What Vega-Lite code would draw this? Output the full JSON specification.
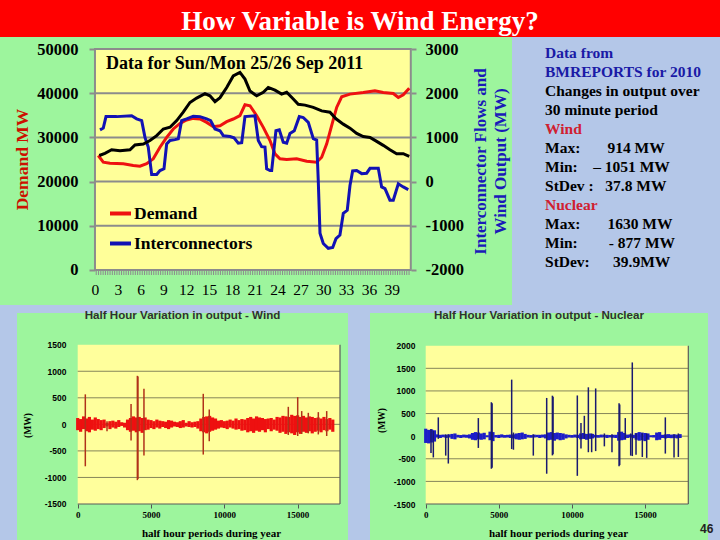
{
"$schema": "https://vega.github.io/schema/vega-lite/v6.json",
"background": "#b4c7e8",
"padding": 0,
"autosize": {"type": "pad"},
"config": {"view": {"stroke": null}, "axis": {"grid": false, "labelFlush": false, "labelOverlap": false}},
"spacing": 0,
"resolve": {"scale": {"color": "independent"}, "legend": {"color": "independent"}},
"vconcat": [
{
 "width": 720, "height": 37,
 "view": {"fill": "#ff0000"},
 "data": {"values": [{"label": "How Variable is Wind Energy?"}]},
 "mark": {"type": "text", "color": "white", "font": "Liberation Serif", "fontWeight": "bold", "fontSize": 27, "align": "center", "baseline": "alphabetic"},
 "encoding": {
  "text": {"field": "label"},
  "x": {"datum": 0.5, "type": "quantitative", "scale": {"domain": [0, 1]}, "axis": null},
  "y": {"datum": 0.2, "type": "quantitative", "scale": {"domain": [0, 1]}, "axis": null}
 }
},
{
 "spacing": 5,
 "resolve": {"scale": {"color": "independent"}, "legend": {"color": "independent"}},
 "vconcat": [
 {
  "spacing": 0,
  "bounds": "flush",
  "resolve": {"scale": {"color": "independent"}, "legend": {"color": "independent"}},
  "hconcat": [
  {
   "width": 512, "height": 268,
   "view": {"fill": "#9df59d"},
   "resolve": {"scale": {"y": "independent"}},
   "layer": [
   {
    "layer": [
    {
     "data": {"values": [{}]},
     "mark": {"type": "rect", "fill": "#ffff99", "stroke": "#8c8c8c", "strokeWidth": 2},
     "encoding": {
      "x": {"datum": 0, "type": "quantitative", "scale": {"domain": [-12.48, 54.8], "nice": false, "zero": false},
        "axis": {"orient": "bottom", "offset": -35, "values": [0,3,6,9,12,15,18,21,24,27,30,33,36,39], "labelOverlap": false, "domain": false, "ticks": false, "tickSize": 0, "labelPadding": 12, "labelFont": "Liberation Serif", "labelFontSize": 15.5, "labelFontWeight": "normal", "labelColor": "black", "title": null}},
      "x2": {"datum": 41.5},
      "y": {"datum": 0, "type": "quantitative", "scale": {"domain": [-7919, 52715], "nice": false, "zero": false},
        "axis": {"orient": "left", "offset": -95, "values": [0,10000,20000,30000,40000,50000], "labelOverlap": false, "domain": false, "ticks": true, "tickColor": "#8c8c8c", "tickSize": 6, "tickWidth": 2, "labelPadding": 11, "labelFont": "Liberation Serif", "labelFontWeight": "bold", "labelFontSize": 16.5, "labelColor": "black", "labelExpr": "'' + datum.value", "title": "Demand MW", "titleColor": "#cc1100", "titleFont": "Liberation Serif", "titleFontWeight": "bold", "titleFontSize": 17.5, "titlePadding": 5, "titleY": 122}},
      "y2": {"datum": 50000}
     }
    },
    {
     "data": {"values": [{"v": 10000}, {"v": 20000}, {"v": 30000}, {"v": 40000}]},
     "mark": {"type": "rule", "color": "#8c8c8c", "strokeWidth": 2},
     "encoding": {
      "x": {"datum": 0, "type": "quantitative", "scale": {"domain": [-12.48, 54.8], "nice": false, "zero": false},
        "axis": {"orient": "bottom", "offset": -35, "values": [0,3,6,9,12,15,18,21,24,27,30,33,36,39], "labelOverlap": false, "domain": false, "ticks": false, "tickSize": 0, "labelPadding": 12, "labelFont": "Liberation Serif", "labelFontSize": 15.5, "labelFontWeight": "normal", "labelColor": "black", "title": null}},
      "x2": {"datum": 41.5},
      "y": {"field": "v", "type": "quantitative", "scale": {"domain": [-7919, 52715], "nice": false, "zero": false},
        "axis": {"orient": "left", "offset": -95, "values": [0,10000,20000,30000,40000,50000], "labelOverlap": false, "domain": false, "ticks": true, "tickColor": "#8c8c8c", "tickSize": 6, "tickWidth": 2, "labelPadding": 11, "labelFont": "Liberation Serif", "labelFontWeight": "bold", "labelFontSize": 16.5, "labelColor": "black", "labelExpr": "'' + datum.value", "title": "Demand MW", "titleColor": "#cc1100", "titleFont": "Liberation Serif", "titleFontWeight": "bold", "titleFontSize": 17.5, "titlePadding": 5, "titleY": 122}}
     }
    },
    {
     "data": {"values": [{}]},
     "mark": {"type": "rule", "color": "#8c8c8c", "strokeWidth": 5, "strokeDash": [1, 1.3]},
     "encoding": {
      "x": {"datum": 0.1, "type": "quantitative", "scale": {"domain": [-12.48, 54.8], "nice": false, "zero": false},
        "axis": {"orient": "bottom", "offset": -35, "values": [0,3,6,9,12,15,18,21,24,27,30,33,36,39], "labelOverlap": false, "domain": false, "ticks": false, "tickSize": 0, "labelPadding": 12, "labelFont": "Liberation Serif", "labelFontSize": 15.5, "labelFontWeight": "normal", "labelColor": "black", "title": null}},
      "x2": {"datum": 41.5},
      "y": {"datum": -560, "type": "quantitative", "scale": {"domain": [-7919, 52715], "nice": false, "zero": false},
        "axis": {"orient": "left", "offset": -95, "values": [0,10000,20000,30000,40000,50000], "labelOverlap": false, "domain": false, "ticks": true, "tickColor": "#8c8c8c", "tickSize": 6, "tickWidth": 2, "labelPadding": 11, "labelFont": "Liberation Serif", "labelFontWeight": "bold", "labelFontSize": 16.5, "labelColor": "black", "labelExpr": "'' + datum.value", "title": "Demand MW", "titleColor": "#cc1100", "titleFont": "Liberation Serif", "titleFontWeight": "bold", "titleFontSize": 17.5, "titlePadding": 5, "titleY": 122}}
     }
    },
    {
     "data": {"values": [{"note": "Data for Sun/Mon 25/26 Sep 2011"}]},
     "mark": {"type": "text", "align": "left", "baseline": "alphabetic", "font": "Liberation Serif", "fontWeight": "bold", "fontSize": 18, "color": "black"},
     "encoding": {
      "x": {"datum": 1.45, "type": "quantitative", "scale": {"domain": [-12.48, 54.8], "nice": false, "zero": false},
        "axis": {"orient": "bottom", "offset": -35, "values": [0,3,6,9,12,15,18,21,24,27,30,33,36,39], "labelOverlap": false, "domain": false, "ticks": false, "tickSize": 0, "labelPadding": 12, "labelFont": "Liberation Serif", "labelFontSize": 15.5, "labelFontWeight": "normal", "labelColor": "black", "title": null}},
      "y": {"datum": 45400, "type": "quantitative", "scale": {"domain": [-7919, 52715], "nice": false, "zero": false},
        "axis": {"orient": "left", "offset": -95, "values": [0,10000,20000,30000,40000,50000], "labelOverlap": false, "domain": false, "ticks": true, "tickColor": "#8c8c8c", "tickSize": 6, "tickWidth": 2, "labelPadding": 11, "labelFont": "Liberation Serif", "labelFontWeight": "bold", "labelFontSize": 16.5, "labelColor": "black", "labelExpr": "'' + datum.value", "title": "Demand MW", "titleColor": "#cc1100", "titleFont": "Liberation Serif", "titleFontWeight": "bold", "titleFontSize": 17.5, "titlePadding": 5, "titleY": 122}},
      "text": {"field": "note"}
     }
    },
    {
     "data": {"values": [
      {"t":0.43,"v":25900},{"t":1.09,"v":24390},{"t":1.97,"v":24160},{"t":3.72,"v":24030},{"t":5.03,"v":23650},{"t":5.91,"v":23490},{"t":6.79,"v":24030},{"t":7.66,"v":25150},{"t":8.54,"v":27770},{"t":9.42,"v":30020},{"t":10.29,"v":31910},{"t":11.17,"v":33170},{"t":12.05,"v":33940},{"t":12.92,"v":34300},{"t":13.80,"v":34160},{"t":14.68,"v":33400},{"t":15.55,"v":32430},{"t":16.43,"v":32650},{"t":17.31,"v":33560},{"t":18.17,"v":34160},{"t":19.05,"v":34910},{"t":19.71,"v":37380},{"t":20.37,"v":37160},{"t":21.25,"v":34910},{"t":22.12,"v":32270},{"t":23.00,"v":29280},{"t":23.65,"v":26280},{"t":24.31,"v":25150},{"t":25.19,"v":25000},{"t":26.50,"v":25150},{"t":27.82,"v":24610},{"t":29.13,"v":24390},{"t":29.79,"v":25520},{"t":30.45,"v":28530},{"t":31.10,"v":32650},{"t":31.76,"v":36780},{"t":32.42,"v":39190},{"t":33.51,"v":39790},{"t":35.26,"v":40150},{"t":36.79,"v":40540},{"t":37.88,"v":40150},{"t":39.20,"v":39930},{"t":39.86,"v":39030},{"t":40.51,"v":39640},{"t":41.30,"v":41140}
     ]},
     "transform": [{"calculate": "'Demand'", "as": "series"}],
     "mark": {"type": "line", "strokeWidth": 3},
     "encoding": {
      "x": {"field": "t", "type": "quantitative", "scale": {"domain": [-12.48, 54.8], "nice": false, "zero": false},
        "axis": {"orient": "bottom", "offset": -35, "values": [0,3,6,9,12,15,18,21,24,27,30,33,36,39], "labelOverlap": false, "domain": false, "ticks": false, "tickSize": 0, "labelPadding": 12, "labelFont": "Liberation Serif", "labelFontSize": 15.5, "labelFontWeight": "normal", "labelColor": "black", "title": null}},
      "y": {"field": "v", "type": "quantitative", "scale": {"domain": [-7919, 52715], "nice": false, "zero": false},
        "axis": {"orient": "left", "offset": -95, "values": [0,10000,20000,30000,40000,50000], "labelOverlap": false, "domain": false, "ticks": true, "tickColor": "#8c8c8c", "tickSize": 6, "tickWidth": 2, "labelPadding": 11, "labelFont": "Liberation Serif", "labelFontWeight": "bold", "labelFontSize": 16.5, "labelColor": "black", "labelExpr": "'' + datum.value", "title": "Demand MW", "titleColor": "#cc1100", "titleFont": "Liberation Serif", "titleFontWeight": "bold", "titleFontSize": 17.5, "titlePadding": 5, "titleY": 122}},
      "color": {"field": "series", "type": "nominal", "scale": {"domain": ["Demand", "Interconnectors"], "range": ["#ee1111", "#1212b4"]},
        "legend": {"orient": "none", "legendX": 108, "legendY": 164, "title": null, "symbolType": "stroke", "symbolStrokeWidth": 4, "symbolSize": 441, "labelFont": "Liberation Serif", "labelFontSize": 17.5, "labelFontWeight": "bold", "labelColor": "black", "rowPadding": 9, "labelOffset": 1, "padding": 0}}
     }
    }
    ]
   },
   {
    "layer": [
    {
     "data": {"values": [
      {"t":0.66,"v":1170},{"t":1.09,"v":1210},{"t":1.45,"v":1470},{"t":2.85,"v":1470},{"t":4.82,"v":1490},{"t":5.48,"v":1420},{"t":6.14,"v":1380},{"t":6.57,"v":1000},{"t":7.00,"v":780},{"t":7.45,"v":160},{"t":8.11,"v":160},{"t":8.54,"v":250},{"t":9.07,"v":290},{"t":9.42,"v":850},{"t":9.86,"v":930},{"t":10.51,"v":950},{"t":10.95,"v":970},{"t":11.39,"v":1380},{"t":12.05,"v":1420},{"t":12.92,"v":1480},{"t":13.80,"v":1470},{"t":14.68,"v":1420},{"t":15.20,"v":1380},{"t":15.77,"v":1190},{"t":16.43,"v":1150},{"t":16.86,"v":1040},{"t":17.74,"v":1020},{"t":18.27,"v":990},{"t":18.83,"v":870},{"t":19.28,"v":880},{"t":19.71,"v":1470},{"t":21.02,"v":1490},{"t":21.46,"v":930},{"t":21.90,"v":790},{"t":22.34,"v":780},{"t":22.56,"v":290},{"t":23.00,"v":250},{"t":23.22,"v":250},{"t":23.78,"v":1150},{"t":24.22,"v":1170},{"t":24.74,"v":890},{"t":25.19,"v":870},{"t":25.62,"v":1090},{"t":26.19,"v":1150},{"t":26.85,"v":1470},{"t":27.37,"v":1450},{"t":28.03,"v":1340},{"t":28.69,"v":970},{"t":29.13,"v":940},{"t":29.34,"v":30},{"t":29.57,"v":-1170},{"t":30.00,"v":-1400},{"t":30.66,"v":-1510},{"t":31.24,"v":-1490},{"t":31.67,"v":-1290},{"t":32.19,"v":-1210},{"t":32.63,"v":-720},{"t":33.15,"v":-650},{"t":33.51,"v":-90},{"t":33.86,"v":240},{"t":34.39,"v":250},{"t":35.05,"v":180},{"t":35.70,"v":190},{"t":36.14,"v":300},{"t":37.23,"v":300},{"t":37.67,"v":-120},{"t":38.11,"v":-160},{"t":38.76,"v":-420},{"t":39.20,"v":-420},{"t":39.86,"v":-50},{"t":40.51,"v":-120},{"t":41.17,"v":-180}
     ]},
     "transform": [{"calculate": "'Interconnectors'", "as": "series"}],
     "mark": {"type": "line", "strokeWidth": 3},
     "encoding": {
      "x": {"field": "t", "type": "quantitative", "scale": {"domain": [-12.48, 54.8], "nice": false, "zero": false},
        "axis": {"orient": "bottom", "offset": -35, "values": [0,3,6,9,12,15,18,21,24,27,30,33,36,39], "labelOverlap": false, "domain": false, "ticks": false, "tickSize": 0, "labelPadding": 12, "labelFont": "Liberation Serif", "labelFontSize": 15.5, "labelFontWeight": "normal", "labelColor": "black", "title": null}},
      "y": {"field": "v", "type": "quantitative", "scale": {"domain": [-2792, 3271.5], "nice": false, "zero": false},
        "axis": {"orient": "right", "offset": -101, "values": [-2000,-1000,0,1000,2000,3000], "labelOverlap": false, "domain": false, "ticks": true, "tickColor": "#8c8c8c", "tickSize": 5, "tickWidth": 2, "labelPadding": 9, "labelFont": "Liberation Serif", "labelFontWeight": "bold", "labelFontSize": 16.5, "labelColor": "black", "labelExpr": "'' + datum.value", "title": ["Interconnector Flows and", "Wind Output (MW)"], "titleColor": "#1a1ab8", "titleFont": "Liberation Serif", "titleFontWeight": "bold", "titleFontSize": 17, "titleAngle": 270, "titleBaseline": "top", "titleX": 61, "titleY": 124, "titleLineHeight": 20}},
      "color": {"field": "series", "type": "nominal", "scale": {"domain": ["Demand", "Interconnectors"], "range": ["#ee1111", "#1212b4"]},
        "legend": {"orient": "none", "legendX": 108, "legendY": 164, "title": null, "symbolType": "stroke", "symbolStrokeWidth": 4, "symbolSize": 441, "labelFont": "Liberation Serif", "labelFontSize": 17.5, "labelFontWeight": "bold", "labelColor": "black", "rowPadding": 9, "labelOffset": 1, "padding": 0}}
     }
    },
    {
     "data": {"values": [
      {"t":0.57,"v":590},{"t":1.31,"v":640},{"t":2.19,"v":720},{"t":3.29,"v":700},{"t":4.60,"v":720},{"t":5.26,"v":830},{"t":6.35,"v":850},{"t":7.23,"v":930},{"t":8.11,"v":1040},{"t":8.98,"v":1190},{"t":9.86,"v":1230},{"t":10.74,"v":1380},{"t":11.60,"v":1570},{"t":12.48,"v":1790},{"t":13.36,"v":1890},{"t":14.45,"v":1990},{"t":15.11,"v":1940},{"t":15.77,"v":1810},{"t":16.43,"v":1900},{"t":17.31,"v":2130},{"t":18.17,"v":2390},{"t":19.05,"v":2470},{"t":19.71,"v":2320},{"t":20.37,"v":2050},{"t":21.25,"v":1940},{"t":22.12,"v":2020},{"t":22.77,"v":2130},{"t":23.65,"v":2070},{"t":24.53,"v":1980},{"t":25.19,"v":2020},{"t":26.06,"v":1870},{"t":26.71,"v":1750},{"t":27.60,"v":1730},{"t":28.69,"v":1680},{"t":29.79,"v":1600},{"t":30.88,"v":1570},{"t":31.67,"v":1420},{"t":32.63,"v":1300},{"t":33.51,"v":1210},{"t":34.39,"v":1090},{"t":35.26,"v":1020},{"t":36.14,"v":1000},{"t":37.02,"v":910},{"t":37.88,"v":820},{"t":38.76,"v":720},{"t":39.64,"v":630},{"t":40.51,"v":630},{"t":41.30,"v":570}
     ]},
     "mark": {"type": "line", "strokeWidth": 3, "color": "black"},
     "encoding": {
      "x": {"field": "t", "type": "quantitative", "scale": {"domain": [-12.48, 54.8], "nice": false, "zero": false},
        "axis": {"orient": "bottom", "offset": -35, "values": [0,3,6,9,12,15,18,21,24,27,30,33,36,39], "labelOverlap": false, "domain": false, "ticks": false, "tickSize": 0, "labelPadding": 12, "labelFont": "Liberation Serif", "labelFontSize": 15.5, "labelFontWeight": "normal", "labelColor": "black", "title": null}},
      "y": {"field": "v", "type": "quantitative", "scale": {"domain": [-2792, 3271.5], "nice": false, "zero": false},
        "axis": {"orient": "right", "offset": -101, "values": [-2000,-1000,0,1000,2000,3000], "labelOverlap": false, "domain": false, "ticks": true, "tickColor": "#8c8c8c", "tickSize": 5, "tickWidth": 2, "labelPadding": 9, "labelFont": "Liberation Serif", "labelFontWeight": "bold", "labelFontSize": 16.5, "labelColor": "black", "labelExpr": "'' + datum.value", "title": ["Interconnector Flows and", "Wind Output (MW)"], "titleColor": "#1a1ab8", "titleFont": "Liberation Serif", "titleFontWeight": "bold", "titleFontSize": 17, "titleAngle": 270, "titleBaseline": "top", "titleX": 61, "titleY": 124, "titleLineHeight": 20}}
     }
    }
    ]
   }
   ]
  },
  {
   "width": 208, "height": 268,
   "data": {"values": [
    {"line": 1, "text": "Data from", "kind": "source"},
    {"line": 2, "text": "BMREPORTS for 2010", "kind": "source"},
    {"line": 3, "text": "Changes in output over", "kind": "body"},
    {"line": 4, "text": "30 minute period", "kind": "body"},
    {"line": 5, "text": "Wind", "kind": "head"},
    {"line": 6, "text": "Max:\u00a0\u00a0\u00a0\u00a0\u00a0\u00a0\u00a0914 MW", "kind": "body"},
    {"line": 7, "text": "Min:\u00a0\u00a0\u00a0\u00a0– 1051 MW", "kind": "body"},
    {"line": 8, "text": "StDev :\u00a0\u00a0\u00a037.8 MW", "kind": "body"},
    {"line": 9, "text": "Nuclear", "kind": "head"},
    {"line": 10, "text": "Max:\u00a0\u00a0\u00a0\u00a0\u00a0\u00a0\u00a01630 MW", "kind": "body"},
    {"line": 11, "text": "Min:\u00a0\u00a0\u00a0\u00a0\u00a0\u00a0\u00a0\u00a0- 877 MW", "kind": "body"},
    {"line": 12, "text": "StDev:\u00a0\u00a0\u00a0\u00a0\u00a0\u00a039.9MW", "kind": "body"}
   ]},
   "mark": {"type": "text", "align": "left", "baseline": "middle", "font": "Liberation Serif", "fontWeight": "bold", "fontSize": 15.5},
   "encoding": {
    "x": {"datum": 0, "type": "quantitative", "scale": {"domain": [-1, 5.3]}, "axis": null},
    "y": {"field": "line", "type": "quantitative", "scale": {"domain": [0.174, 14.28], "reverse": true, "nice": false, "zero": false}, "axis": null},
    "text": {"field": "text"},
    "color": {"field": "kind", "type": "nominal", "scale": {"domain": ["source", "body", "head"], "range": ["#1a1aa6", "#000000", "#d02030"]}, "legend": null}
   }
  }
  ]
 },
 {
  "spacing": 0,
  "bounds": "flush",
  "hconcat": [
  {
   "width": 17, "height": 230,
   "data": {"values": [{}]},
   "mark": {"type": "text"},
   "encoding": {"text": {"value": ""}}
  },
  {
   "width": 331, "height": 230,
   "view": {"fill": "#9df59d"},
   "title": {"text": "Half Hour Variation in output - Wind", "font": "Liberation Sans", "fontSize": 11.6, "fontWeight": "bold", "color": "#303030", "anchor": "middle", "frame": "group", "offset": -18, "baseline": "alphabetic"},
   "layer": [
   {
    "data": {"values": [{}]},
    "mark": {"type": "rect", "fill": "#ffff9c"},
    "encoding": {
     "x": {"datum": 0, "type": "quantitative", "scale": {"domain": [-4140, 18438], "nice": false, "zero": false},
       "axis": {"orient": "bottom", "offset": -39, "values": [0, 5000, 10000, 15000], "labelOverlap": false, "domain": false, "ticks": true, "tickSize": 4, "tickColor": "#555555", "labelPadding": 2, "labelFont": "Liberation Serif", "labelFontWeight": "bold", "labelFontSize": 9, "labelColor": "black", "labelExpr": "'' + datum.value", "title": "half hour periods during year", "titleFont": "Liberation Serif", "titleFontWeight": "bold", "titleFontSize": 11, "titleColor": "black", "titleX": 194, "titleY": 29, "titleBaseline": "middle"}},
     "x2": {"datum": 17892},
     "y": {"datum": -1500, "type": "quantitative", "scale": {"domain": [-2234.5, 2097], "nice": false, "zero": false},
       "axis": {"orient": "left", "offset": -61, "values": [-1500, -1000, -500, 0, 500, 1000, 1500], "labelOverlap": false, "domain": false, "ticks": false, "tickSize": 0, "labelPadding": 12, "labelFont": "Liberation Sans", "labelFontWeight": "bold", "labelFontSize": 8.5, "labelColor": "black", "labelExpr": "'' + datum.value", "title": "(MW)", "titleFont": "Liberation Serif", "titleFontWeight": "bold", "titleFontSize": 9.5, "titleColor": "black", "titlePadding": 12, "titleY": 112}},
     "y2": {"datum": 1500}
    }
   },
   {
    "data": {"values": [{"v": 1000}, {"v": 500}, {"v": 0}, {"v": -500}, {"v": -1000}]},
    "mark": {"type": "rule", "color": "#86865a", "strokeWidth": 1},
    "encoding": {
     "x": {"datum": 0, "type": "quantitative", "scale": {"domain": [-4140, 18438], "nice": false, "zero": false},
       "axis": {"orient": "bottom", "offset": -39, "values": [0, 5000, 10000, 15000], "labelOverlap": false, "domain": false, "ticks": true, "tickSize": 4, "tickColor": "#555555", "labelPadding": 2, "labelFont": "Liberation Serif", "labelFontWeight": "bold", "labelFontSize": 9, "labelColor": "black", "labelExpr": "'' + datum.value", "title": "half hour periods during year", "titleFont": "Liberation Serif", "titleFontWeight": "bold", "titleFontSize": 11, "titleColor": "black", "titleX": 194, "titleY": 29, "titleBaseline": "middle"}},
     "x2": {"datum": 17892},
     "y": {"field": "v", "type": "quantitative", "scale": {"domain": [-2234.5, 2097], "nice": false, "zero": false},
       "axis": {"orient": "left", "offset": -61, "values": [-1500, -1000, -500, 0, 500, 1000, 1500], "labelOverlap": false, "domain": false, "ticks": false, "tickSize": 0, "labelPadding": 12, "labelFont": "Liberation Sans", "labelFontWeight": "bold", "labelFontSize": 8.5, "labelColor": "black", "labelExpr": "'' + datum.value", "title": "(MW)", "titleFont": "Liberation Serif", "titleFontWeight": "bold", "titleFontSize": 9.5, "titleColor": "black", "titlePadding": 12, "titleY": 112}}
    }
   },
   {
    "data": {"values": [{}]},
    "mark": {"type": "rule", "color": "#5a5a5a", "strokeWidth": 1.2},
    "encoding": {
     "x": {"datum": 0, "type": "quantitative", "scale": {"domain": [-4140, 18438], "nice": false, "zero": false},
       "axis": {"orient": "bottom", "offset": -39, "values": [0, 5000, 10000, 15000], "labelOverlap": false, "domain": false, "ticks": true, "tickSize": 4, "tickColor": "#555555", "labelPadding": 2, "labelFont": "Liberation Serif", "labelFontWeight": "bold", "labelFontSize": 9, "labelColor": "black", "labelExpr": "'' + datum.value", "title": "half hour periods during year", "titleFont": "Liberation Serif", "titleFontWeight": "bold", "titleFontSize": 11, "titleColor": "black", "titleX": 194, "titleY": 29, "titleBaseline": "middle"}},
     "x2": {"datum": 17892},
     "y": {"datum": -1500, "type": "quantitative", "scale": {"domain": [-2234.5, 2097], "nice": false, "zero": false},
       "axis": {"orient": "left", "offset": -61, "values": [-1500, -1000, -500, 0, 500, 1000, 1500], "labelOverlap": false, "domain": false, "ticks": false, "tickSize": 0, "labelPadding": 12, "labelFont": "Liberation Sans", "labelFontWeight": "bold", "labelFontSize": 8.5, "labelColor": "black", "labelExpr": "'' + datum.value", "title": "(MW)", "titleFont": "Liberation Serif", "titleFontWeight": "bold", "titleFontSize": 9.5, "titleColor": "black", "titlePadding": 12, "titleY": 112}}
    }
   },
   {
    "data": {"values": [{}]},
    "mark": {"type": "rule", "color": "#5a5a5a", "strokeWidth": 1.2},
    "encoding": {
     "x": {"datum": 17892, "type": "quantitative", "scale": {"domain": [-4140, 18438], "nice": false, "zero": false},
       "axis": {"orient": "bottom", "offset": -39, "values": [0, 5000, 10000, 15000], "labelOverlap": false, "domain": false, "ticks": true, "tickSize": 4, "tickColor": "#555555", "labelPadding": 2, "labelFont": "Liberation Serif", "labelFontWeight": "bold", "labelFontSize": 9, "labelColor": "black", "labelExpr": "'' + datum.value", "title": "half hour periods during year", "titleFont": "Liberation Serif", "titleFontWeight": "bold", "titleFontSize": 11, "titleColor": "black", "titleX": 194, "titleY": 29, "titleBaseline": "middle"}},
     "y": {"datum": -1500, "type": "quantitative", "scale": {"domain": [-2234.5, 2097], "nice": false, "zero": false},
       "axis": {"orient": "left", "offset": -61, "values": [-1500, -1000, -500, 0, 500, 1000, 1500], "labelOverlap": false, "domain": false, "ticks": false, "tickSize": 0, "labelPadding": 12, "labelFont": "Liberation Sans", "labelFontWeight": "bold", "labelFontSize": 8.5, "labelColor": "black", "labelExpr": "'' + datum.value", "title": "(MW)", "titleFont": "Liberation Serif", "titleFontWeight": "bold", "titleFontSize": 9.5, "titleColor": "black", "titlePadding": 12, "titleY": 112}},
     "y2": {"datum": 1500}
    }
   },
   {
    "data": {"values": [
     {"x":0,"lo":-110,"hi":120},{"x":200,"lo":-140,"hi":100},{"x":400,"lo":-90,"hi":150},{"x":600,"lo":-130,"hi":110},{"x":800,"lo":-150,"hi":140},{"x":1000,"lo":-100,"hi":90},{"x":1200,"lo":-120,"hi":130},{"x":1400,"lo":-90,"hi":100},{"x":1600,"lo":-110,"hi":80},{"x":1800,"lo":-70,"hi":90},
     {"x":2000,"lo":-40,"hi":30},{"x":2200,"lo":-90,"hi":60},{"x":2400,"lo":-60,"hi":70},{"x":2600,"lo":-80,"hi":50},{"x":2800,"lo":-50,"hi":80},{"x":3000,"lo":-30,"hi":40},{"x":3200,"lo":-60,"hi":30},{"x":3400,"lo":-110,"hi":90},{"x":3600,"lo":-140,"hi":120},{"x":3800,"lo":-120,"hi":150},
     {"x":4000,"lo":-150,"hi":130},{"x":4200,"lo":-130,"hi":140},{"x":4400,"lo":-160,"hi":120},{"x":4600,"lo":-110,"hi":130},{"x":4800,"lo":-100,"hi":90},{"x":5000,"lo":-70,"hi":80},{"x":5200,"lo":-90,"hi":60},{"x":5400,"lo":-60,"hi":90},{"x":5600,"lo":-80,"hi":70},{"x":5800,"lo":-50,"hi":60},
     {"x":6000,"lo":-70,"hi":50},{"x":6200,"lo":-90,"hi":80},{"x":6400,"lo":-60,"hi":70},{"x":6600,"lo":-40,"hi":50},{"x":6800,"lo":-50,"hi":40},{"x":7000,"lo":-70,"hi":60},{"x":7200,"lo":-60,"hi":80},{"x":7400,"lo":-40,"hi":30},{"x":7600,"lo":-50,"hi":60},{"x":7800,"lo":-60,"hi":40},
     {"x":8000,"lo":-50,"hi":50},{"x":8200,"lo":-80,"hi":60},{"x":8400,"lo":-130,"hi":110},{"x":8600,"lo":-150,"hi":140},{"x":8800,"lo":-170,"hi":150},{"x":9000,"lo":-140,"hi":160},{"x":9200,"lo":-120,"hi":130},{"x":9400,"lo":-100,"hi":110},{"x":9600,"lo":-80,"hi":70},{"x":9800,"lo":-60,"hi":80},
     {"x":10000,"lo":-70,"hi":60},{"x":10200,"lo":-90,"hi":70},{"x":10400,"lo":-60,"hi":90},{"x":10600,"lo":-80,"hi":70},{"x":10800,"lo":-100,"hi":110},{"x":11000,"lo":-90,"hi":80},{"x":11200,"lo":-120,"hi":100},{"x":11400,"lo":-110,"hi":90},{"x":11600,"lo":-150,"hi":120},{"x":11800,"lo":-130,"hi":140},
     {"x":12000,"lo":-160,"hi":110},{"x":12200,"lo":-120,"hi":150},{"x":12400,"lo":-140,"hi":130},{"x":12600,"lo":-110,"hi":120},{"x":12800,"lo":-150,"hi":100},{"x":13000,"lo":-90,"hi":110},{"x":13200,"lo":-130,"hi":120},{"x":13400,"lo":-100,"hi":90},{"x":13600,"lo":-120,"hi":140},{"x":13800,"lo":-160,"hi":130},
     {"x":14000,"lo":-140,"hi":160},{"x":14200,"lo":-180,"hi":150},{"x":14400,"lo":-150,"hi":140},{"x":14600,"lo":-170,"hi":180},{"x":14800,"lo":-200,"hi":160},{"x":15000,"lo":-150,"hi":170},{"x":15200,"lo":-180,"hi":140},{"x":15400,"lo":-140,"hi":160},{"x":15600,"lo":-160,"hi":130},{"x":15800,"lo":-130,"hi":150},
     {"x":16000,"lo":-170,"hi":140},{"x":16200,"lo":-140,"hi":120},{"x":16400,"lo":-120,"hi":130},{"x":16600,"lo":-150,"hi":110},{"x":16800,"lo":-110,"hi":140},{"x":17000,"lo":-130,"hi":100},{"x":17200,"lo":-100,"hi":120},{"x":17400,"lo":-140,"hi":90}
    ]},
    "mark": {"type": "rule", "color": "#ee1010", "strokeWidth": 3.2},
    "encoding": {
     "x": {"field": "x", "type": "quantitative", "scale": {"domain": [-4140, 18438], "nice": false, "zero": false},
       "axis": {"orient": "bottom", "offset": -39, "values": [0, 5000, 10000, 15000], "labelOverlap": false, "domain": false, "ticks": true, "tickSize": 4, "tickColor": "#555555", "labelPadding": 2, "labelFont": "Liberation Serif", "labelFontWeight": "bold", "labelFontSize": 9, "labelColor": "black", "labelExpr": "'' + datum.value", "title": "half hour periods during year", "titleFont": "Liberation Serif", "titleFontWeight": "bold", "titleFontSize": 11, "titleColor": "black", "titleX": 194, "titleY": 29, "titleBaseline": "middle"}},
     "y": {"field": "lo", "type": "quantitative", "scale": {"domain": [-2234.5, 2097], "nice": false, "zero": false},
       "axis": {"orient": "left", "offset": -61, "values": [-1500, -1000, -500, 0, 500, 1000, 1500], "labelOverlap": false, "domain": false, "ticks": false, "tickSize": 0, "labelPadding": 12, "labelFont": "Liberation Sans", "labelFontWeight": "bold", "labelFontSize": 8.5, "labelColor": "black", "labelExpr": "'' + datum.value", "title": "(MW)", "titleFont": "Liberation Serif", "titleFontWeight": "bold", "titleFontSize": 9.5, "titleColor": "black", "titlePadding": 12, "titleY": 112}},
     "y2": {"field": "hi"}
    }
   },
   {
    "data": {"values": [
     {"x":520,"lo":-790,"hi":565},{"x":2000,"lo":-130,"hi":60},{"x":3640,"lo":-305,"hi":385},{"x":4070,"lo":-1051,"hi":914},{"x":4110,"lo":-1030,"hi":900},{"x":4520,"lo":-588,"hi":670},{"x":8565,"lo":-569,"hi":575},{"x":8975,"lo":-318,"hi":280},{"x":14366,"lo":-200,"hi":330},{"x":15007,"lo":-220,"hi":513},{"x":15280,"lo":-180,"hi":250},{"x":15730,"lo":-170,"hi":217},{"x":16413,"lo":-190,"hi":230},{"x":16985,"lo":-220,"hi":250}
    ]},
    "mark": {"type": "rule", "color": "#b0321a", "strokeWidth": 1.5},
    "encoding": {
     "x": {"field": "x", "type": "quantitative", "scale": {"domain": [-4140, 18438], "nice": false, "zero": false},
       "axis": {"orient": "bottom", "offset": -39, "values": [0, 5000, 10000, 15000], "labelOverlap": false, "domain": false, "ticks": true, "tickSize": 4, "tickColor": "#555555", "labelPadding": 2, "labelFont": "Liberation Serif", "labelFontWeight": "bold", "labelFontSize": 9, "labelColor": "black", "labelExpr": "'' + datum.value", "title": "half hour periods during year", "titleFont": "Liberation Serif", "titleFontWeight": "bold", "titleFontSize": 11, "titleColor": "black", "titleX": 194, "titleY": 29, "titleBaseline": "middle"}},
     "y": {"field": "lo", "type": "quantitative", "scale": {"domain": [-2234.5, 2097], "nice": false, "zero": false},
       "axis": {"orient": "left", "offset": -61, "values": [-1500, -1000, -500, 0, 500, 1000, 1500], "labelOverlap": false, "domain": false, "ticks": false, "tickSize": 0, "labelPadding": 12, "labelFont": "Liberation Sans", "labelFontWeight": "bold", "labelFontSize": 8.5, "labelColor": "black", "labelExpr": "'' + datum.value", "title": "(MW)", "titleFont": "Liberation Serif", "titleFontWeight": "bold", "titleFontSize": 9.5, "titleColor": "black", "titlePadding": 12, "titleY": 112}},
     "y2": {"field": "hi"}
    }
   }
   ]
  },
  {
   "width": 22, "height": 230,
   "data": {"values": [{}]},
   "mark": {"type": "text"},
   "encoding": {"text": {"value": ""}}
  },
  {
   "width": 338, "height": 230,
   "view": {"fill": "#9df59d"},
   "title": {"text": "Half Hour Variation in output - Nuclear", "font": "Liberation Sans", "fontSize": 11.6, "fontWeight": "bold", "color": "#303030", "anchor": "middle", "frame": "group", "offset": -18, "baseline": "alphabetic"},
   "layer": [
   {
    "data": {"values": [{}]},
    "mark": {"type": "rect", "fill": "#ffff9c"},
    "encoding": {
     "x": {"datum": 0, "type": "quantitative", "scale": {"domain": [-3810, 19308], "nice": false, "zero": false},
       "axis": {"orient": "bottom", "offset": -39, "values": [0, 5000, 10000, 15000], "labelOverlap": false, "domain": false, "ticks": true, "tickSize": 4, "tickColor": "#555555", "labelPadding": 2, "labelFont": "Liberation Serif", "labelFontWeight": "bold", "labelFontSize": 9, "labelColor": "black", "labelExpr": "'' + datum.value", "title": "half hour periods during year", "titleFont": "Liberation Serif", "titleFontWeight": "bold", "titleFontSize": 11, "titleColor": "black", "titleX": 188, "titleY": 29, "titleBaseline": "middle"}},
     "x2": {"datum": 17961},
     "y": {"datum": -1500, "type": "quantitative", "scale": {"domain": [-2362, 2723], "nice": false, "zero": false},
       "axis": {"orient": "left", "offset": -56, "values": [-1500, -1000, -500, 0, 500, 1000, 1500, 2000], "labelOverlap": false, "domain": false, "ticks": false, "tickSize": 0, "labelPadding": 11, "labelFont": "Liberation Sans", "labelFontWeight": "bold", "labelFontSize": 8.5, "labelColor": "black", "labelExpr": "'' + datum.value", "title": "(MW)", "titleFont": "Liberation Serif", "titleFontWeight": "bold", "titleFontSize": 9.5, "titleColor": "black", "titlePadding": 7, "titleY": 107}},
     "y2": {"datum": 2000}
    }
   },
   {
    "data": {"values": [{"v": 1500}, {"v": 1000}, {"v": 500}, {"v": 0}, {"v": -500}, {"v": -1000}]},
    "mark": {"type": "rule", "color": "#86865a", "strokeWidth": 1},
    "encoding": {
     "x": {"datum": 0, "type": "quantitative", "scale": {"domain": [-3810, 19308], "nice": false, "zero": false},
       "axis": {"orient": "bottom", "offset": -39, "values": [0, 5000, 10000, 15000], "labelOverlap": false, "domain": false, "ticks": true, "tickSize": 4, "tickColor": "#555555", "labelPadding": 2, "labelFont": "Liberation Serif", "labelFontWeight": "bold", "labelFontSize": 9, "labelColor": "black", "labelExpr": "'' + datum.value", "title": "half hour periods during year", "titleFont": "Liberation Serif", "titleFontWeight": "bold", "titleFontSize": 11, "titleColor": "black", "titleX": 188, "titleY": 29, "titleBaseline": "middle"}},
     "x2": {"datum": 17961},
     "y": {"field": "v", "type": "quantitative", "scale": {"domain": [-2362, 2723], "nice": false, "zero": false},
       "axis": {"orient": "left", "offset": -56, "values": [-1500, -1000, -500, 0, 500, 1000, 1500, 2000], "labelOverlap": false, "domain": false, "ticks": false, "tickSize": 0, "labelPadding": 11, "labelFont": "Liberation Sans", "labelFontWeight": "bold", "labelFontSize": 8.5, "labelColor": "black", "labelExpr": "'' + datum.value", "title": "(MW)", "titleFont": "Liberation Serif", "titleFontWeight": "bold", "titleFontSize": 9.5, "titleColor": "black", "titlePadding": 7, "titleY": 107}}
    }
   },
   {
    "data": {"values": [{}]},
    "mark": {"type": "rule", "color": "#5a5a5a", "strokeWidth": 1.2},
    "encoding": {
     "x": {"datum": 0, "type": "quantitative", "scale": {"domain": [-3810, 19308], "nice": false, "zero": false},
       "axis": {"orient": "bottom", "offset": -39, "values": [0, 5000, 10000, 15000], "labelOverlap": false, "domain": false, "ticks": true, "tickSize": 4, "tickColor": "#555555", "labelPadding": 2, "labelFont": "Liberation Serif", "labelFontWeight": "bold", "labelFontSize": 9, "labelColor": "black", "labelExpr": "'' + datum.value", "title": "half hour periods during year", "titleFont": "Liberation Serif", "titleFontWeight": "bold", "titleFontSize": 11, "titleColor": "black", "titleX": 188, "titleY": 29, "titleBaseline": "middle"}},
     "x2": {"datum": 17961},
     "y": {"datum": -1500, "type": "quantitative", "scale": {"domain": [-2362, 2723], "nice": false, "zero": false},
       "axis": {"orient": "left", "offset": -56, "values": [-1500, -1000, -500, 0, 500, 1000, 1500, 2000], "labelOverlap": false, "domain": false, "ticks": false, "tickSize": 0, "labelPadding": 11, "labelFont": "Liberation Sans", "labelFontWeight": "bold", "labelFontSize": 8.5, "labelColor": "black", "labelExpr": "'' + datum.value", "title": "(MW)", "titleFont": "Liberation Serif", "titleFontWeight": "bold", "titleFontSize": 9.5, "titleColor": "black", "titlePadding": 7, "titleY": 107}}
    }
   },
   {
    "data": {"values": [{}]},
    "mark": {"type": "rule", "color": "#5a5a5a", "strokeWidth": 1.2},
    "encoding": {
     "x": {"datum": 17961, "type": "quantitative", "scale": {"domain": [-3810, 19308], "nice": false, "zero": false},
       "axis": {"orient": "bottom", "offset": -39, "values": [0, 5000, 10000, 15000], "labelOverlap": false, "domain": false, "ticks": true, "tickSize": 4, "tickColor": "#555555", "labelPadding": 2, "labelFont": "Liberation Serif", "labelFontWeight": "bold", "labelFontSize": 9, "labelColor": "black", "labelExpr": "'' + datum.value", "title": "half hour periods during year", "titleFont": "Liberation Serif", "titleFontWeight": "bold", "titleFontSize": 11, "titleColor": "black", "titleX": 188, "titleY": 29, "titleBaseline": "middle"}},
     "y": {"datum": -1500, "type": "quantitative", "scale": {"domain": [-2362, 2723], "nice": false, "zero": false},
       "axis": {"orient": "left", "offset": -56, "values": [-1500, -1000, -500, 0, 500, 1000, 1500, 2000], "labelOverlap": false, "domain": false, "ticks": false, "tickSize": 0, "labelPadding": 11, "labelFont": "Liberation Sans", "labelFontWeight": "bold", "labelFontSize": 8.5, "labelColor": "black", "labelExpr": "'' + datum.value", "title": "(MW)", "titleFont": "Liberation Serif", "titleFontWeight": "bold", "titleFontSize": 9.5, "titleColor": "black", "titlePadding": 7, "titleY": 107}},
     "y2": {"datum": 2000}
    }
   },
   {
    "data": {"values": [
     {"x":0,"lo":-150,"hi":165},{"x":200,"lo":-160,"hi":140},{"x":400,"lo":-140,"hi":150},{"x":600,"lo":-120,"hi":130},{"x":800,"lo":-30,"hi":40},{"x":1000,"lo":-40,"hi":30},{"x":1200,"lo":-25,"hi":35},{"x":1400,"lo":-40,"hi":30},{"x":1600,"lo":-30,"hi":40},{"x":1800,"lo":-60,"hi":50},
     {"x":2000,"lo":-70,"hi":60},{"x":2200,"lo":-30,"hi":30},{"x":2400,"lo":-40,"hi":25},{"x":2600,"lo":-30,"hi":35},{"x":2800,"lo":-35,"hi":30},{"x":3000,"lo":-50,"hi":40},{"x":3200,"lo":-80,"hi":70},{"x":3400,"lo":-90,"hi":90},{"x":3600,"lo":-70,"hi":80},{"x":3800,"lo":-80,"hi":60},
     {"x":4000,"lo":-70,"hi":75},{"x":4200,"lo":-25,"hi":20},{"x":4400,"lo":-90,"hi":100},{"x":4600,"lo":-110,"hi":90},{"x":4800,"lo":-30,"hi":25},{"x":5000,"lo":-40,"hi":30},{"x":5200,"lo":-30,"hi":40},{"x":5400,"lo":-35,"hi":25},{"x":5600,"lo":-30,"hi":30},{"x":5800,"lo":-40,"hi":35},
     {"x":6000,"lo":-50,"hi":40},{"x":6200,"lo":-70,"hi":60},{"x":6400,"lo":-80,"hi":70},{"x":6600,"lo":-70,"hi":80},{"x":6800,"lo":-60,"hi":50},{"x":7000,"lo":-30,"hi":30},{"x":7200,"lo":-35,"hi":25},{"x":7400,"lo":-30,"hi":35},{"x":7600,"lo":-25,"hi":30},{"x":7800,"lo":-40,"hi":30},
     {"x":8000,"lo":-30,"hi":35},{"x":8200,"lo":-50,"hi":40},{"x":8400,"lo":-90,"hi":80},{"x":8600,"lo":-80,"hi":90},{"x":8800,"lo":-100,"hi":70},{"x":9000,"lo":-70,"hi":80},{"x":9200,"lo":-90,"hi":70},{"x":9400,"lo":-80,"hi":60},{"x":9600,"lo":-50,"hi":40},{"x":9800,"lo":-30,"hi":30},
     {"x":10000,"lo":-35,"hi":25},{"x":10200,"lo":-30,"hi":35},{"x":10400,"lo":-40,"hi":30},{"x":10600,"lo":-70,"hi":60},{"x":10800,"lo":-60,"hi":70},{"x":11000,"lo":-80,"hi":50},{"x":11200,"lo":-60,"hi":60},{"x":11400,"lo":-50,"hi":50},{"x":11600,"lo":-30,"hi":30},{"x":11800,"lo":-35,"hi":25},
     {"x":12000,"lo":-30,"hi":35},{"x":12200,"lo":-25,"hi":30},{"x":12400,"lo":-40,"hi":30},{"x":12600,"lo":-30,"hi":25},{"x":12800,"lo":-35,"hi":30},{"x":13000,"lo":-40,"hi":30},{"x":13200,"lo":-100,"hi":90},{"x":13400,"lo":-90,"hi":100},{"x":13600,"lo":-80,"hi":70},{"x":13800,"lo":-40,"hi":35},
     {"x":14000,"lo":-30,"hi":40},{"x":14200,"lo":-45,"hi":30},{"x":14400,"lo":-80,"hi":70},{"x":14600,"lo":-100,"hi":90},{"x":14800,"lo":-90,"hi":80},{"x":15000,"lo":-110,"hi":70},{"x":15200,"lo":-80,"hi":60},{"x":15400,"lo":-25,"hi":20},{"x":15600,"lo":-30,"hi":25},{"x":15800,"lo":-90,"hi":80},
     {"x":16000,"lo":-80,"hi":90},{"x":16200,"lo":-40,"hi":30},{"x":16400,"lo":-50,"hi":40},{"x":16600,"lo":-40,"hi":45},{"x":16800,"lo":-45,"hi":35},{"x":17000,"lo":-40,"hi":40},{"x":17200,"lo":-50,"hi":35},{"x":17400,"lo":-40,"hi":45}
    ]},
    "mark": {"type": "rule", "color": "#1c1cc8", "strokeWidth": 3.2},
    "encoding": {
     "x": {"field": "x", "type": "quantitative", "scale": {"domain": [-3810, 19308], "nice": false, "zero": false},
       "axis": {"orient": "bottom", "offset": -39, "values": [0, 5000, 10000, 15000], "labelOverlap": false, "domain": false, "ticks": true, "tickSize": 4, "tickColor": "#555555", "labelPadding": 2, "labelFont": "Liberation Serif", "labelFontWeight": "bold", "labelFontSize": 9, "labelColor": "black", "labelExpr": "'' + datum.value", "title": "half hour periods during year", "titleFont": "Liberation Serif", "titleFontWeight": "bold", "titleFontSize": 11, "titleColor": "black", "titleX": 188, "titleY": 29, "titleBaseline": "middle"}},
     "y": {"field": "lo", "type": "quantitative", "scale": {"domain": [-2362, 2723], "nice": false, "zero": false},
       "axis": {"orient": "left", "offset": -56, "values": [-1500, -1000, -500, 0, 500, 1000, 1500, 2000], "labelOverlap": false, "domain": false, "ticks": false, "tickSize": 0, "labelPadding": 11, "labelFont": "Liberation Sans", "labelFontWeight": "bold", "labelFontSize": 8.5, "labelColor": "black", "labelExpr": "'' + datum.value", "title": "(MW)", "titleFont": "Liberation Serif", "titleFontWeight": "bold", "titleFontSize": 9.5, "titleColor": "black", "titlePadding": 7, "titleY": 107}},
     "y2": {"field": "hi"}
    }
   },
   {
    "data": {"values": [
     {"x":362,"lo":-370,"hi":160},{"x":522,"lo":-470,"hi":120},{"x":862,"lo":-60,"hi":415},{"x":1368,"lo":-430,"hi":40},{"x":1547,"lo":-605,"hi":40},{"x":3600,"lo":-260,"hi":400},{"x":4490,"lo":-720,"hi":750},{"x":4540,"lo":-700,"hi":730},{"x":5880,"lo":-285,"hi":1250},{"x":6000,"lo":-300,"hi":80},{"x":7360,"lo":-430,"hi":40},{"x":8275,"lo":-830,"hi":845},{"x":8665,"lo":-425,"hi":895},{"x":8710,"lo":-400,"hi":870},{"x":10370,"lo":-877,"hi":900},{"x":10620,"lo":-275,"hi":290},{"x":10850,"lo":-60,"hi":450},{"x":11125,"lo":-355,"hi":1080},{"x":11350,"lo":-355,"hi":60},{"x":11625,"lo":-330,"hi":1055},{"x":12220,"lo":-225,"hi":60},{"x":12740,"lo":-355,"hi":40},{"x":13225,"lo":-665,"hi":725},{"x":13270,"lo":-640,"hi":700},{"x":13650,"lo":-60,"hi":400},{"x":14020,"lo":-430,"hi":60},{"x":14130,"lo":-440,"hi":1630},{"x":14385,"lo":-410,"hi":60},{"x":14815,"lo":-460,"hi":60},{"x":15115,"lo":-480,"hi":60},{"x":16390,"lo":-385,"hi":415},{"x":16985,"lo":-470,"hi":40},{"x":17280,"lo":-460,"hi":60}
    ]},
    "mark": {"type": "rule", "color": "#1a1a70", "strokeWidth": 1.5},
    "encoding": {
     "x": {"field": "x", "type": "quantitative", "scale": {"domain": [-3810, 19308], "nice": false, "zero": false},
       "axis": {"orient": "bottom", "offset": -39, "values": [0, 5000, 10000, 15000], "labelOverlap": false, "domain": false, "ticks": true, "tickSize": 4, "tickColor": "#555555", "labelPadding": 2, "labelFont": "Liberation Serif", "labelFontWeight": "bold", "labelFontSize": 9, "labelColor": "black", "labelExpr": "'' + datum.value", "title": "half hour periods during year", "titleFont": "Liberation Serif", "titleFontWeight": "bold", "titleFontSize": 11, "titleColor": "black", "titleX": 188, "titleY": 29, "titleBaseline": "middle"}},
     "y": {"field": "lo", "type": "quantitative", "scale": {"domain": [-2362, 2723], "nice": false, "zero": false},
       "axis": {"orient": "left", "offset": -56, "values": [-1500, -1000, -500, 0, 500, 1000, 1500, 2000], "labelOverlap": false, "domain": false, "ticks": false, "tickSize": 0, "labelPadding": 11, "labelFont": "Liberation Sans", "labelFontWeight": "bold", "labelFontSize": 8.5, "labelColor": "black", "labelExpr": "'' + datum.value", "title": "(MW)", "titleFont": "Liberation Serif", "titleFontWeight": "bold", "titleFontSize": 9.5, "titleColor": "black", "titlePadding": 7, "titleY": 107}},
     "y2": {"field": "hi"}
    }
   },
   {
    "data": {"values": [{"page": "46"}]},
    "mark": {"type": "text", "font": "Liberation Sans", "fontWeight": "bold", "fontSize": 12, "color": "#222222", "align": "center", "baseline": "middle"},
    "encoding": {
     "x": {"datum": 19220, "type": "quantitative", "scale": {"domain": [-3810, 19308], "nice": false, "zero": false},
       "axis": {"orient": "bottom", "offset": -39, "values": [0, 5000, 10000, 15000], "labelOverlap": false, "domain": false, "ticks": true, "tickSize": 4, "tickColor": "#555555", "labelPadding": 2, "labelFont": "Liberation Serif", "labelFontWeight": "bold", "labelFontSize": 9, "labelColor": "black", "labelExpr": "'' + datum.value", "title": "half hour periods during year", "titleFont": "Liberation Serif", "titleFontWeight": "bold", "titleFontSize": 11, "titleColor": "black", "titleX": 188, "titleY": 29, "titleBaseline": "middle"}},
     "y": {"datum": -2053, "type": "quantitative", "scale": {"domain": [-2362, 2723], "nice": false, "zero": false},
       "axis": {"orient": "left", "offset": -56, "values": [-1500, -1000, -500, 0, 500, 1000, 1500, 2000], "labelOverlap": false, "domain": false, "ticks": false, "tickSize": 0, "labelPadding": 11, "labelFont": "Liberation Sans", "labelFontWeight": "bold", "labelFontSize": 8.5, "labelColor": "black", "labelExpr": "'' + datum.value", "title": "(MW)", "titleFont": "Liberation Serif", "titleFontWeight": "bold", "titleFontSize": 9.5, "titleColor": "black", "titlePadding": 7, "titleY": 107}},
     "text": {"field": "page"}
    }
   }
   ]
  }
  ]
 }
 ]
}
]
}
